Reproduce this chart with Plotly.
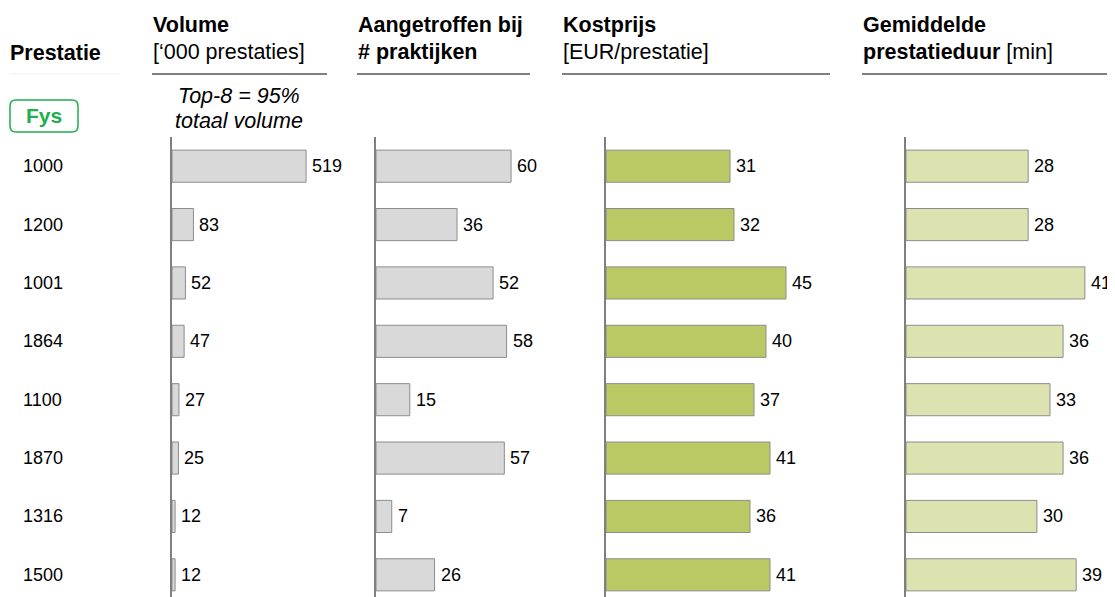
import plotly.graph_objects as go

OFF = 8  # page body margin offset compensation
W, H = 1115 - OFF, 597 - OFF

prestaties = ["1000", "1200", "1001", "1864", "1100", "1870", "1316", "1500"]
volume = [519, 83, 52, 47, 27, 25, 12, 12]
praktijken = [60, 36, 52, 58, 15, 57, 7, 26]
kostprijs = [31, 32, 45, 40, 37, 41, 36, 41]
duur = [28, 28, 41, 36, 33, 36, 30, 39]

series = [volume, praktijken, kostprijs, duur]
fills = ["#d9d9d9", "#d9d9d9", "#bbc965", "#dde3b0"]
# panel pixel extents: (axis x, right edge, max range)
panels = [(172, 327, 600), (376, 530, 68.4), (606, 830, 56), (906, 1115, 47.9)]

FONT = "Liberation Sans, Arial, sans-serif"
HS = 21.5

def px(x):
    return (x - OFF) / W

def py(y):
    return 1 - (y - OFF) / H

fig = go.Figure()
idx = list(range(len(prestaties)))
ann = []
for i, (vals, col, (x0, x1, rmax)) in enumerate(zip(series, fills, panels)):
    n = "" if i == 0 else str(i + 1)
    fig.add_trace(go.Bar(
        x=vals, y=idx, orientation="h",
        marker=dict(color=col, line=dict(color="#8c8c8c", width=1)),
        width=0.55,
        xaxis="x" + n, yaxis="y" + n, showlegend=False, hoverinfo="skip",
    ))
    fig.layout["xaxis" + n] = dict(domain=[px(x0), min(1, px(x1))], range=[0, rmax],
                                   visible=False, anchor="y" + n)
    fig.layout["yaxis" + n] = dict(domain=[0, py(137)], range=[7.38, -0.5],
                                   showline=True, linecolor="#7f7f7f", linewidth=2,
                                   showticklabels=False, ticks="", showgrid=False,
                                   zeroline=False, anchor="x" + n)
    for j, v in enumerate(vals):
        ann.append(dict(x=v, y=j, xref="x" + n, yref="y" + n, text=str(v), showarrow=False,
                        xanchor="left", yanchor="middle", xshift=4,
                        font=dict(family=FONT, size=18, color="#000000")))

for i, p in enumerate(prestaties):
    ann.append(dict(x=px(21), y=i, xref="paper", yref="y", text=p, showarrow=False,
                    xanchor="left", yanchor="middle",
                    font=dict(family=FONT, size=18, color="#000000")))

def txt(x, y, t, size=HS, anchor="left"):
    ann.append(dict(x=px(x), y=py(y), xref="paper", yref="paper", text=t, showarrow=False,
                    xanchor=anchor, yanchor="middle",
                    font=dict(family=FONT, size=size, color="#000000")))

txt(8, 53, "<b>Prestatie</b>")
txt(151, 25, "<b>Volume</b>")
txt(151, 52, "[‘000 prestaties]")
txt(356, 25, "<b>Aangetroffen bij</b>")
txt(356, 52, "<b># praktijken</b>")
txt(561, 25, "<b>Kostprijs</b>")
txt(561, 52, "[EUR/prestatie]")
txt(861, 25, "<b>Gemiddelde</b>")
txt(861, 52, "<b>prestatieduur</b> [min]")
txt(239, 96, "<i>Top-8 = 95%</i>", anchor="center")
txt(239, 121, "<i>totaal volume</i>", anchor="center")
ann.append(dict(x=px(44), y=py(116), xref="paper", yref="paper", text="<b>Fys</b>",
                showarrow=False, xanchor="center", yanchor="middle",
                font=dict(family=FONT, size=21, color="#1db04f")))

def hline(x0, x1, y, color, w):
    return dict(type="line", xref="paper", yref="paper", x0=px(x0), x1=px(x1),
                y0=py(y), y1=py(y), line=dict(color=color, width=w))

r = 6
shapes = [
    hline(10, 120, 74, "#eeeeee", 1),
    hline(152, 327, 74, "#000000", 1.2),
    hline(357, 530, 74, "#000000", 1.2),
    hline(562, 830, 74, "#000000", 1.2),
    hline(862, 1115, 74, "#000000", 1.2),
    dict(type="path", xref="paper", yref="paper",
         path=(f"M {px(10+r)},{py(100)} L {px(78-r)},{py(100)} Q {px(78)},{py(100)} {px(78)},{py(100+r)} "
               f"L {px(78)},{py(132-r)} Q {px(78)},{py(132)} {px(78-r)},{py(132)} "
               f"L {px(10+r)},{py(132)} Q {px(10)},{py(132)} {px(10)},{py(132-r)} "
               f"L {px(10)},{py(100+r)} Q {px(10)},{py(100)} {px(10+r)},{py(100)} Z"),
         line=dict(color="#1db04f", width=1.5), fillcolor="rgba(0,0,0,0)"),
]

fig.update_layout(width=W, height=H, margin=dict(l=0, r=0, t=0, b=0),
                  paper_bgcolor="white", plot_bgcolor="white",
                  annotations=ann, shapes=shapes, bargap=0.45,
                  font=dict(family=FONT))

fig.write_html("out.html")
